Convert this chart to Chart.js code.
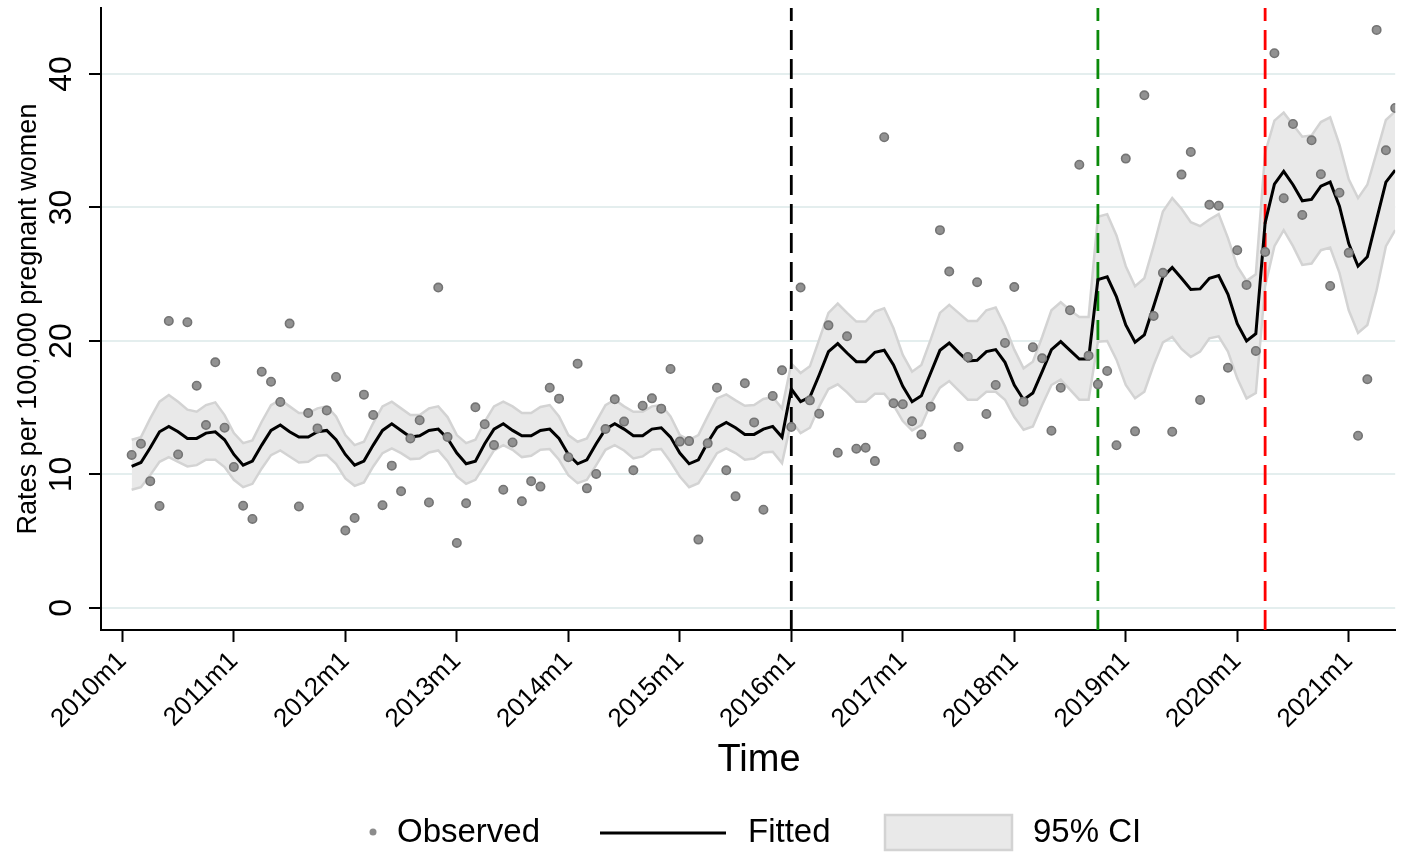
<!DOCTYPE html>
<html>
<head>
<meta charset="utf-8">
<title>Rates per 100,000 pregnant women</title>
<script src="https://cdn.jsdelivr.net/npm/chart.js@4.4.1/dist/chart.umd.min.js"></script>
<style>
  html, body { margin: 0; padding: 0; background: #fff; }
  canvas { display: block; }
</style>
</head>
<body>
<canvas id="chart" width="1401" height="852"></canvas>
<script>
// months counted from 2010m1 = 0; the series start at 2010m2
const firstMonth = 1;

const observed = [
  11.46, 12.3, 9.5, 7.64, 21.5, 11.5, 21.4, 16.65, 13.7, 18.4, 13.5, 10.56,
  7.66, 6.67, 17.7, 16.95, 15.43, 21.3, 7.6, 14.6, 13.45, 14.8, 17.3, 5.8,
  6.74, 15.98, 14.46, 7.7, 10.66, 8.74, 12.7, 14.06, 7.9, 24.0, 12.8, 4.87,
  7.84, 15.03, 13.76, 12.2, 8.86, 12.4, 7.99, 9.49, 9.09, 16.5, 15.68, 11.29,
  18.3, 8.96, 10.04, 13.4, 15.63, 13.96, 10.31, 15.15, 15.7, 14.93, 17.9, 12.46,
  12.5, 5.12, 12.33, 16.5, 10.31, 8.36, 16.83, 13.9, 7.36, 15.88, 17.8, 13.56,
  24.0, 15.55, 14.55, 21.17, 11.63, 20.35, 11.93, 12.0, 11.0, 35.26, 15.33, 15.26,
  13.98, 13.0, 15.08, 28.3, 25.2, 12.06, 18.8, 24.4, 14.53, 16.7, 19.85, 24.04,
  15.45, 19.53, 18.7, 13.28, 16.5, 22.3, 33.2, 18.9, 16.75, 17.75, 12.19, 33.66,
  13.23, 38.4, 21.87, 25.1, 13.2, 32.46, 34.16, 15.58, 30.2, 30.13, 18.0, 26.8,
  24.2, 19.25, 26.67, 41.55, 30.69, 36.25, 29.44, 35.03, 32.49, 24.12, 31.1, 26.6,
  12.9, 17.13, 43.3, 34.28, 37.45
];

const fitted = [
  10.6, 10.9, 12.0, 13.2, 13.6, 13.2, 12.7, 12.7, 13.1, 13.2, 12.6, 11.5,
  10.7, 11.0, 12.2, 13.3, 13.7, 13.2, 12.8, 12.8, 13.2, 13.3, 12.6, 11.5,
  10.7, 11.0, 12.2, 13.3, 13.8, 13.3, 12.8, 12.9, 13.3, 13.4, 12.7, 11.6,
  10.8, 11.0, 12.3, 13.4, 13.8, 13.3, 12.9, 12.9, 13.3, 13.4, 12.7, 11.5,
  10.8, 11.1, 12.3, 13.4, 13.8, 13.4, 12.9, 12.9, 13.4, 13.5, 12.8, 11.6,
  10.8, 11.1, 12.4, 13.5, 13.9, 13.5, 13.0, 13.0, 13.4, 13.6, 12.8,
  16.4, 15.45, 15.8, 17.45, 19.2, 19.8, 19.1, 18.45, 18.45, 19.15, 19.3, 18.2,
  16.6, 15.45, 15.9, 17.6, 19.3, 19.85, 19.15, 18.5, 18.55, 19.2, 19.35, 18.4,
  16.7, 15.6, 16.1, 17.7, 19.35, 19.95, 19.3, 18.65, 18.65,
  24.6, 24.8, 23.3, 21.2, 19.9, 20.45, 22.6, 24.8, 25.5, 24.7, 23.85, 23.9,
  24.7, 24.9, 23.5, 21.3, 20.0, 20.55,
  28.85, 31.75, 32.7, 31.7, 30.5, 30.6, 31.6, 31.9, 30.1, 27.3, 25.6, 26.3,
  29.1, 31.9, 32.8
];

const ciUpper = [
  12.6, 12.8, 14.2, 15.45, 15.95, 15.45, 14.85, 14.7, 15.2, 15.4, 14.45, 13.1,
  12.35, 12.55, 13.95, 15.2, 15.6, 15.1, 14.6, 14.6, 14.95, 15.1, 14.35, 12.95,
  12.2, 12.45, 13.85, 15.1, 15.45, 14.95, 14.45, 14.45, 14.95, 15.1, 14.3, 12.95,
  12.35, 12.6, 13.95, 15.1, 15.45, 15.1, 14.6, 14.6, 15.05, 15.2, 14.35, 12.95,
  12.45, 12.7, 13.95, 15.2, 15.6, 15.1, 14.7, 14.7, 15.1, 15.2, 14.35, 12.95,
  12.6, 12.95, 14.35, 15.7, 16.0, 15.55, 15.15, 15.2, 15.65, 15.8, 14.95,
  18.3, 17.6, 18.1, 20.1, 22.1, 22.8, 22.1, 21.45, 21.45, 22.2, 22.45, 20.95,
  18.95, 17.7, 18.2, 20.1, 22.1, 22.7, 22.1, 21.5, 21.5, 22.3, 22.5, 21.1,
  19.35, 17.95, 18.45, 20.3, 22.3, 22.9, 22.3, 21.8, 21.8,
  29.3, 29.5, 27.9, 25.6, 24.1, 24.7, 27.1, 29.7, 30.7, 29.9, 28.9, 28.6,
  29.1, 29.5, 27.7, 25.6, 24.5, 25.0,
  34.1, 36.5, 37.1, 36.2, 35.3, 35.4, 36.4, 36.75, 34.7, 32.1, 30.7, 31.7,
  34.1, 36.55, 37.2
];

const ciLower = [
  8.85, 9.05, 9.95, 10.95, 11.3, 10.95, 10.6, 10.7, 11.1, 11.1, 10.55, 9.6,
  9.05, 9.3, 10.45, 11.45, 11.8, 11.35, 10.9, 10.95, 11.4, 11.45, 10.8, 9.7,
  9.15, 9.4, 10.6, 11.6, 11.95, 11.6, 11.15, 11.2, 11.65, 11.8, 11.0, 9.85,
  9.3, 9.6, 10.7, 11.8, 12.2, 11.85, 11.3, 11.4, 11.85, 11.9, 11.1, 9.95,
  9.35, 9.6, 10.7, 11.85, 12.2, 11.8, 11.2, 11.35, 11.85, 11.9, 10.95, 9.85,
  9.05, 9.35, 10.45, 11.6, 11.95, 11.6, 11.1, 11.2, 11.65, 11.7, 10.85,
  14.0, 13.1, 13.5, 15.1, 16.4, 16.75, 16.15, 15.45, 15.45, 16.05, 16.05, 15.2,
  14.0, 13.3, 13.7, 15.3, 16.5, 17.0, 16.3, 15.6, 15.6, 16.2, 16.2, 15.6,
  14.3, 13.35, 13.6, 15.2, 16.7, 17.1, 16.35, 15.6, 15.6,
  19.95, 20.0, 18.6, 16.7, 15.7, 16.2, 18.2, 19.9, 20.3, 19.4, 18.8, 19.2,
  20.2, 20.35, 19.2, 17.2, 15.7, 16.1,
  24.1, 27.1, 28.3, 27.1, 25.7, 25.8, 26.8, 27.0, 25.1, 22.3, 20.6, 21.2,
  23.8, 27.1, 28.3
];

const tickMonths = [0, 12, 24, 36, 48, 60, 72, 84, 96, 108, 120, 132];
const tickLabels = ['2010m1', '2011m1', '2012m1', '2013m1', '2014m1', '2015m1',
  '2016m1', '2017m1', '2018m1', '2019m1', '2020m1', '2021m1'];
const yTicks = [0, 10, 20, 30, 40];

// interventions: 2016m1, 2018m10, 2020m4
const interventionMonths = [72, 105, 123];
const interventionColors = ['#000000', '#0a8a0a', '#ff0000'];

const Y_MIN = -1.65, Y_MAX = 44.94;
const FONT = '"Liberation Sans", Arial, Helvetica, sans-serif';

const toPoints = arr => arr.map((v, i) => ({ x: firstMonth + i, y: v }));

const vlineSets = interventionMonths.map((m, i) => ({
  data: [{ x: m, y: Y_MIN }, { x: m, y: Y_MAX }],
  borderColor: interventionColors[i],
  borderWidth: 2.8,
  borderDash: [20, 9],
  pointRadius: 0,
  fill: false,
  order: 2
}));

// x title and legend drawn under the axis (Stata centres them on the page)
const bottomText = {
  id: 'bottomText',
  afterDraw(chart) {
    const ctx = chart.ctx;
    const y = 833;
    ctx.save();
    ctx.fillStyle = '#000';
    ctx.textBaseline = 'middle';
    ctx.textAlign = 'center';
    ctx.font = '38px ' + FONT;
    ctx.fillText('Time', 759, 761);

    ctx.textAlign = 'left';
    ctx.font = '33px ' + FONT;
    ctx.beginPath();
    ctx.arc(373, y - 1, 3.5, 0, Math.PI * 2);
    ctx.fillStyle = '#8c8c8c';
    ctx.fill();
    ctx.fillStyle = '#000';
    ctx.fillText('Observed', 397, y);

    ctx.beginPath();
    ctx.moveTo(600, y);
    ctx.lineTo(726, y);
    ctx.strokeStyle = '#000';
    ctx.lineWidth = 3;
    ctx.stroke();
    ctx.fillText('Fitted', 748, y);

    ctx.fillStyle = '#e9e9e9';
    ctx.fillRect(885, 815, 127, 35);
    ctx.strokeStyle = '#d3d3d3';
    ctx.lineWidth = 2.5;
    ctx.strokeRect(885, 815, 127, 35);
    ctx.fillStyle = '#000';
    ctx.fillText('95% CI', 1033, y);
    ctx.restore();
  }
};

new Chart(document.getElementById('chart').getContext('2d'), {
  type: 'line',
  data: {
    datasets: [
      {
        label: 'Observed',
        data: toPoints(observed),
        showLine: false,
        pointRadius: 4.2,
        pointBackgroundColor: '#929292',
        pointBorderColor: '#747474',
        pointBorderWidth: 1.6,
        order: 0
      },
      {
        label: 'Fitted',
        data: toPoints(fitted),
        borderColor: '#000',
        borderWidth: 3,
        pointRadius: 0,
        fill: false,
        order: 1
      },
      ...vlineSets,
      {
        label: '95% CI',
        data: toPoints(ciUpper),
        borderColor: '#d3d3d3',
        borderWidth: 2.5,
        backgroundColor: '#e9e9e9',
        pointRadius: 0,
        fill: '+1',
        order: 4
      },
      {
        label: 'lower',
        data: toPoints(ciLower),
        borderColor: '#d3d3d3',
        borderWidth: 2.5,
        pointRadius: 0,
        fill: false,
        order: 3
      }
    ]
  },
  options: {
    responsive: false,
    animation: false,
    devicePixelRatio: 1,
    layout: { padding: { top: 8, right: 3, bottom: 62, left: 0 } },
    elements: { line: { tension: 0 } },
    plugins: { legend: { display: false }, tooltip: { enabled: false } },
    scales: {
      x: {
        type: 'linear',
        min: -2.3,
        max: 137,
        afterBuildTicks: s => { s.ticks = tickMonths.map(v => ({ value: v })); },
        afterFit: s => { s.height = 160; },
        border: { color: '#000', width: 2 },
        grid: { drawOnChartArea: false, tickColor: '#000', tickLength: 12, tickWidth: 2 },
        ticks: {
          autoSkip: false,
          minRotation: 45,
          maxRotation: 45,
          padding: 4,
          color: '#000',
          font: { size: 26, family: FONT },
          callback: (v, i) => tickLabels[i]
        }
      },
      y: {
        type: 'linear',
        min: Y_MIN,
        max: Y_MAX,
        afterBuildTicks: s => { s.ticks = yTicks.map(v => ({ value: v })); },
        afterFit: s => { s.width = 101; s.paddingTop = 0; s.paddingBottom = 0; },
        border: { color: '#000', width: 2 },
        grid: { color: '#e4eeee', lineWidth: 2, tickColor: '#000', tickLength: 12, tickWidth: 2 },
        ticks: {
          minRotation: 90,
          maxRotation: 90,
          crossAlign: 'center',
          padding: 9,
          color: '#000',
          font: { size: 32, family: FONT }
        },
        title: {
          display: true,
          text: 'Rates per 100,000 pregnant women',
          color: '#000',
          font: { size: 27, family: FONT },
          padding: { top: 12, bottom: 0 }
        }
      }
    }
  },
  plugins: [bottomText]
});
</script>
</body>
</html>
